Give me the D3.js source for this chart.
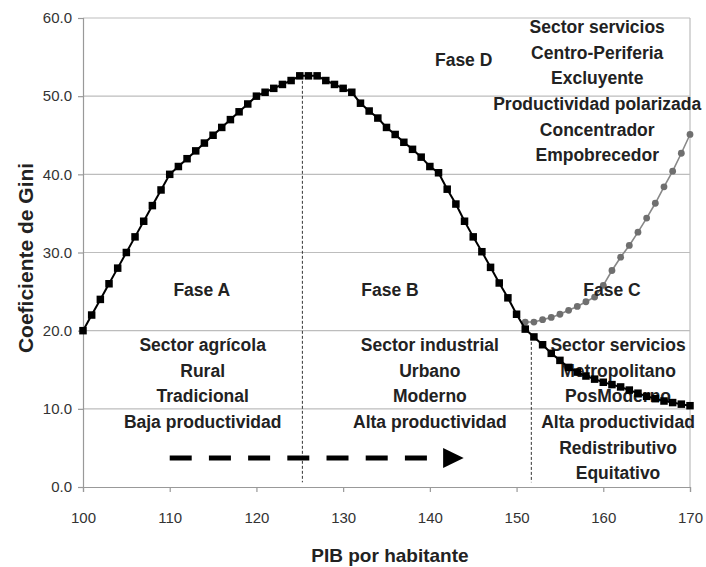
<!DOCTYPE html>
<html>
<head>
<meta charset="utf-8">
<script src="https://cdn.jsdelivr.net/npm/d3@7/dist/d3.min.js"></script>
<style>
  body { margin: 0; background: #fff; }
  svg text { font-family: "Liberation Sans", Arial, sans-serif; }
</style>
</head>
<body>
<div id="chart"></div>
<script>
// Curva de Kuznets: Coeficiente de Gini vs PIB por habitante

const pibBlack = [100, 101, 102, 103, 104, 105, 106, 107, 108, 109,
  110, 111, 112, 113, 114, 115, 116, 117, 118, 119,
  120, 121, 122, 123, 124, 125, 126, 127, 128, 129,
  130, 131, 132, 133, 134, 135, 136, 137, 138, 139,
  140, 141, 142, 143, 144, 145, 146, 147, 148, 149,
  150, 151, 152, 153, 154, 155, 156, 157, 158, 159,
  160, 161, 162, 163, 164, 165, 166, 167, 168, 169, 170];
const giniBlack = [20, 22, 24, 26, 28, 30, 32, 34, 36, 38,
  40, 41, 42, 43, 44, 45, 46, 47, 48, 49,
  50, 50.5, 51, 51.5, 52, 52.6, 52.6, 52.6, 52, 51.5,
  51, 50.5, 49.1, 48.1, 47.2, 46, 45.1, 44.1, 43.2, 42.2,
  41, 40.2, 38.1, 36.2, 34, 32, 30.1, 28.1, 26.1, 24.2,
  22.1, 20.2, 19.2, 18.2, 17.1, 16.2, 15.3, 14.7, 14.2, 13.8,
  13.4, 13.1, 12.8, 12.4, 12.0, 11.6, 11.3, 11.0, 10.8, 10.6, 10.4];

const pibGray = [151, 152, 153, 154, 155, 156, 157, 158, 159, 160,
  161, 162, 163, 164, 165, 166, 167, 168, 169, 170];
const giniGray = [21.1, 21.1, 21.4, 21.7, 22.1, 22.6, 23.1, 23.7, 24.3, 25.8,
  27.7, 29.4, 30.9, 32.6, 34.4, 36.3, 38.4, 40.4, 42.7, 45.1];

const xTicks = [100, 110, 120, 130, 140, 150, 160, 170];
const yTicks = [0, 10, 20, 30, 40, 50, 60];

// phase dividers (x, top value)
const dividers = [
  { x: 125.3, top: 52.6 },
  { x: 151.7, top: 19.2 }
];

// phase titles and descriptions (x center, first baseline value)
const phaseTitles = [
  { label: "Fase A", x: 113.7, y: 24.4 },
  { label: "Fase B", x: 135.4, y: 24.4 },
  { label: "Fase C", x: 161.0, y: 24.4 },
  { label: "Fase D", x: 143.9, y: 53.9 }
];
const phaseLines = [
  { x: 113.8, y: 17.4, lines: ["Sector agrícola", "Rural", "Tradicional", "Baja productividad"] },
  { x: 140.0, y: 17.4, lines: ["Sector industrial", "Urbano", "Moderno", "Alta productividad"] },
  { x: 161.7, y: 17.4, lines: ["Sector servicios", "Metropolitano", "PosModerno", "Alta productividad", "Redistributivo", "Equitativo"] },
  { x: 159.3, y: 58.1, lines: ["Sector servicios", "Centro-Periferia", "Excluyente", "Productividad polarizada", "Concentrador", "Empobrecedor"] }
];

// arrow of time
const arrowFrom = 110, arrowTo = 139.8, arrowHead = 143.9, arrowY = 3.7;

const W = 706, H = 567;
const margin = { left: 83, right: 16, top: 18, bottom: 80 };
const width = W - margin.left - margin.right;
const height = H - margin.top - margin.bottom;

const svg = d3.select("#chart").append("svg")
  .attr("width", W).attr("height", H);

const g = svg.append("g")
  .attr("transform", "translate(" + margin.left + "," + margin.top + ")");

const x = d3.scaleLinear().domain([100, 170]).range([0, width]);
const y = d3.scaleLinear().domain([0, 60]).range([height, 0]);

// gridlines
g.append("g").selectAll("line")
  .data(yTicks.filter(d => d > 0))
  .join("line")
  .attr("x1", 0).attr("x2", width)
  .attr("y1", d => y(d)).attr("y2", d => y(d))
  .attr("stroke", "#bdbdbd").attr("stroke-width", 1.2);

// right border
g.append("line")
  .attr("x1", width).attr("x2", width)
  .attr("y1", 0).attr("y2", height)
  .attr("stroke", "#bdbdbd").attr("stroke-width", 1.2);

// axes
const xAxis = g.append("g")
  .attr("transform", "translate(0," + height + ")")
  .call(d3.axisBottom(x).tickValues(xTicks).tickSize(5).tickPadding(20).tickFormat(d3.format("d")));
const yAxis = g.append("g")
  .call(d3.axisLeft(y).tickValues(yTicks).tickSize(5).tickPadding(6).tickFormat(d3.format(".1f")));

[xAxis, yAxis].forEach(a => {
  a.select(".domain").attr("stroke", "#999").attr("stroke-width", 1.2);
  a.selectAll(".tick line").attr("stroke", "#999").attr("stroke-width", 1.2);
  a.selectAll(".tick text").attr("fill", "#333").attr("font-size", "15px");
});

// axis titles
g.append("text")
  .attr("x", x(135.4)).attr("y", height + 75)
  .attr("text-anchor", "middle")
  .attr("font-size", "19px").attr("font-weight", "bold").attr("fill", "#222")
  .text("PIB por habitante");

g.append("text")
  .attr("transform", "rotate(-90)")
  .attr("x", -(y(29.3))).attr("y", -50)
  .attr("text-anchor", "middle")
  .attr("font-size", "21px").attr("font-weight", "bold").attr("fill", "#222")
  .text("Coeficiente de Gini");

// dividers
g.append("g").selectAll("line")
  .data(dividers)
  .join("line")
  .attr("x1", d => x(d.x)).attr("x2", d => x(d.x))
  .attr("y1", d => y(d.top)).attr("y2", y(0.6))
  .attr("stroke", "#333").attr("stroke-width", 1)
  .attr("stroke-dasharray", "3,2");

// gray series
const grayData = pibGray.map((p, i) => ({ p, v: giniGray[i] }));
const line = d3.line().x(d => x(d.p)).y(d => y(d.v));

g.append("path")
  .datum(grayData)
  .attr("fill", "none").attr("stroke", "#888").attr("stroke-width", 1.6)
  .attr("d", line);
g.append("g").selectAll("circle")
  .data(grayData)
  .join("circle")
  .attr("cx", d => x(d.p)).attr("cy", d => y(d.v))
  .attr("r", 3.4).attr("fill", "#6f6f6f");

// texts
const textColor = "#222";
g.append("g").selectAll("text")
  .data(phaseTitles)
  .join("text")
  .attr("x", d => x(d.x)).attr("y", d => y(d.y))
  .attr("text-anchor", "middle")
  .attr("font-size", "17.5px").attr("font-weight", "bold").attr("fill", textColor)
  .text(d => d.label);

const blocks = g.append("g").selectAll("text")
  .data(phaseLines)
  .join("text")
  .attr("x", d => x(d.x)).attr("y", d => y(d.y))
  .attr("text-anchor", "middle")
  .attr("font-size", "17.5px").attr("font-weight", "bold").attr("fill", textColor);
blocks.selectAll("tspan")
  .data(d => d.lines.map((t, i) => ({ t, i, x: d.x })))
  .join("tspan")
  .attr("x", d => x(d.x))
  .attr("dy", d => d.i === 0 ? 0 : 25.7)
  .text(d => d.t);

// black series
const blackData = pibBlack.map((p, i) => ({ p, v: giniBlack[i] }));
g.append("path")
  .datum(blackData)
  .attr("fill", "none").attr("stroke", "#000").attr("stroke-width", 2)
  .attr("d", line);
g.append("g").selectAll("rect")
  .data(blackData)
  .join("rect")
  .attr("x", d => x(d.p) - 3.75).attr("y", d => y(d.v) - 3.75)
  .attr("width", 7.5).attr("height", 7.5)
  .attr("fill", "#000");

// arrow
g.append("line")
  .attr("x1", x(arrowFrom)).attr("x2", x(arrowTo))
  .attr("y1", y(arrowY)).attr("y2", y(arrowY))
  .attr("stroke", "#000").attr("stroke-width", 5)
  .attr("stroke-dasharray", "22,17.2");
const ay = y(arrowY), ax = x(arrowTo) + 15;
g.append("path")
  .attr("d", "M" + ax + "," + (ay - 10) + "L" + x(arrowHead) + "," + ay + "L" + ax + "," + (ay + 10) + "Z")
  .attr("fill", "#000");
</script>
</body>
</html>
